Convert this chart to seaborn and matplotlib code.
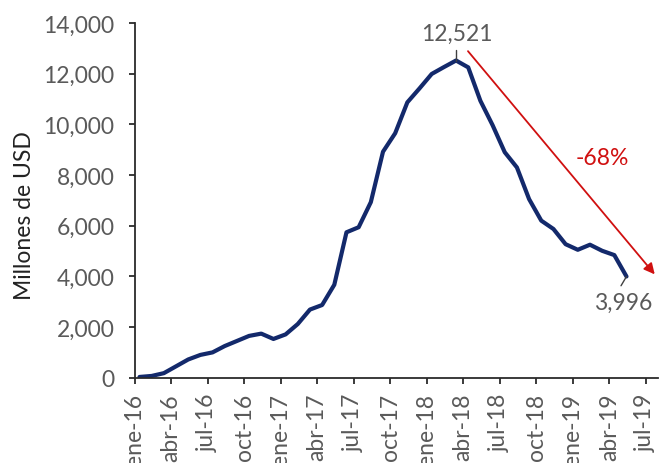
import numpy as np
import pandas as pd
import matplotlib
matplotlib.use("Agg")
import matplotlib.pyplot as plt
import seaborn as sns

# Monthly series, ene-16 .. may-19 (millones de USD)
months = ["ene-16", "feb-16", "mar-16", "abr-16", "may-16", "jun-16", "jul-16", "ago-16",
          "sep-16", "oct-16", "nov-16", "dic-16", "ene-17", "feb-17", "mar-17", "abr-17",
          "may-17", "jun-17", "jul-17", "ago-17", "sep-17", "oct-17", "nov-17", "dic-17",
          "ene-18", "feb-18", "mar-18", "abr-18", "may-18", "jun-18", "jul-18", "ago-18",
          "sep-18", "oct-18", "nov-18", "dic-18", "ene-19", "feb-19", "mar-19", "abr-19",
          "may-19"]
values = [30, 70, 180, 450, 720, 900, 1000, 1250, 1450, 1650, 1740, 1530, 1710, 2120,
          2690, 2870, 3670, 5740, 5940, 6930, 8920, 9650, 10870, 11420, 11990, 12260,
          12521, 12250, 10930, 9970, 8900, 8300, 7050, 6200, 5870, 5270, 5050, 5250,
          5010, 4840, 3996]
tick_labels = ["ene-16", "abr-16", "jul-16", "oct-16", "ene-17", "abr-17", "jul-17",
               "oct-17", "ene-18", "abr-18", "jul-18", "oct-18", "ene-19", "abr-19", "jul-19"]
y_ticks = [0, 2000, 4000, 6000, 8000, 10000, 12000, 14000]
change_label = "-68%"

sns.set_style("ticks")
plt.rcParams["font.family"] = ["Lato", "DejaVu Sans"]
FS = 16.5

df = pd.DataFrame({"mes": months, "valor": values})
df["pos"] = np.arange(len(df)) + 0.41  # points sit mid-month between quarter ticks

fig = plt.figure(figsize=(6.62, 4.64), dpi=100)
ax = fig.add_axes([0.2032, 0.1838, 0.7908, 0.7644])

sns.lineplot(data=df, x="pos", y="valor", ax=ax, color="#13296b", linewidth=3.0)

ax.set_xlim(0, 43)
ax.set_ylim(0, 14000)
ax.set_yticks(y_ticks)
ax.set_yticklabels([f"{v:,}" for v in y_ticks])
ax.set_xticks(np.arange(len(tick_labels)) * 3)
ax.set_xticklabels(tick_labels, rotation=90, va="top", ha="center")

for side in ("top", "right"):
    ax.spines[side].set_visible(False)
for side in ("left", "bottom"):
    ax.spines[side].set_color("#2b2b2b")
    ax.spines[side].set_linewidth(1.3)

ax.tick_params(axis="both", which="major", length=4.5, width=1.3, color="#2b2b2b",
               labelsize=FS, labelcolor="#5a5a5a")
ax.tick_params(axis="y", pad=10)
ax.tick_params(axis="x", pad=6.5)

ax.set_xlabel("")
ax.set_ylabel("Millones de USD", fontsize=FS, color="#222222")
ax.yaxis.set_label_coords(-0.19, 0.46)

# Peak and last value annotations
i_peak = int(np.argmax(values))
x_peak = df["pos"].iloc[i_peak]
ax.plot([x_peak, x_peak], [values[i_peak], 12920], color="#404040", lw=1.0)
ax.text(x_peak + 0.1, 13170, f"{values[i_peak]:,}", ha="center", va="bottom",
        fontsize=FS, color="#5a5a5a")

x_last = df["pos"].iloc[-1]
ax.plot([x_last, x_last - 0.45], [values[-1], 3630], color="#404040", lw=1.0)
ax.text(x_last - 0.25, 2990, f"{values[-1]:,}", ha="center", va="center",
        fontsize=FS, color="#5a5a5a")

# Decline arrow
ax.annotate("", xy=(42.73, 4080), xytext=(27.39, 12890),
            arrowprops=dict(arrowstyle="-|>", color="#d01010", lw=1.3,
                            mutation_scale=16, shrinkA=0, shrinkB=0))
ax.text(38.46, 8710, change_label, ha="center", va="center", fontsize=FS, color="#d01010")

fig.savefig("out.png", dpi=100)
